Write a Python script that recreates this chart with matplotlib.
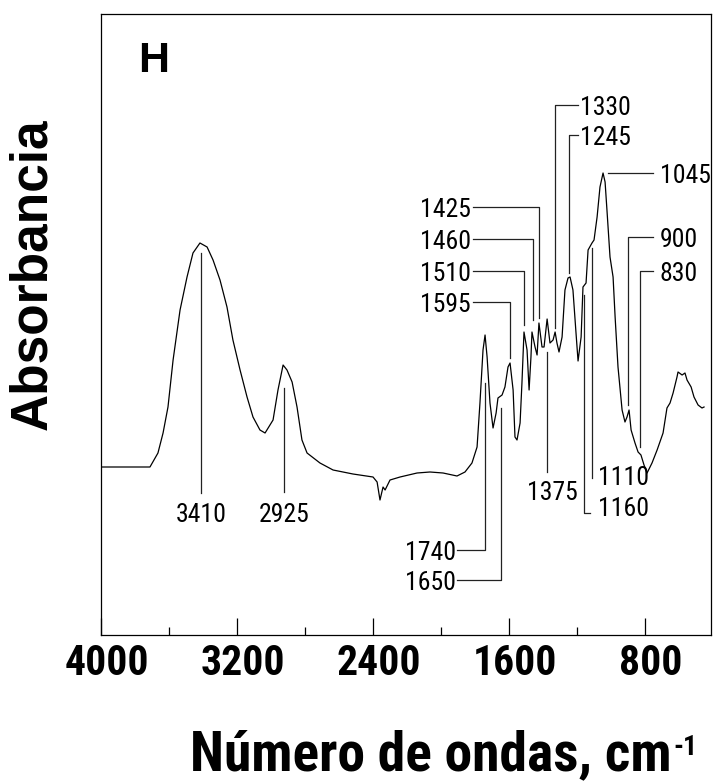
import matplotlib
matplotlib.use("Agg")
import matplotlib.pyplot as plt
from matplotlib import font_manager as fm
from matplotlib.transforms import ScaledTranslation
from matplotlib.ticker import FixedLocator, NullLocator

wavenumber = [
    4000, 3829, 3712, 3665, 3635, 3606, 3576, 3535, 3494, 3459, 3418, 3376,
    3341, 3300, 3259, 3224, 3182, 3141, 3106, 3065, 3035, 2988, 2959, 2929,
    2906, 2876, 2847, 2818, 2788, 2712, 2635, 2518, 2400, 2376, 2359, 2341,
    2329, 2300, 2241, 2141, 2065, 1988, 1906, 1859, 1818, 1788, 1771, 1753,
    1741, 1729, 1712, 1694, 1676, 1665, 1641, 1624, 1606, 1594, 1576, 1565,
    1553, 1535, 1524, 1512, 1494, 1482, 1471, 1465, 1447, 1435, 1424, 1406,
    1394, 1376, 1359, 1341, 1329, 1318, 1306, 1288, 1271, 1253, 1241, 1224,
    1206, 1194, 1176, 1165, 1147, 1135, 1112, 1100, 1082, 1065, 1047, 1035,
    1024, 1006, 988, 976, 959, 935, 918, 906, 894, 882, 859, 841,
    824, 806, 788, 759, 729, 694, 671, 653, 635, 612, 606, 582,
    565, 553, 529, 512, 488, 465, 453,
]
absorbance = [
    0.84, 0.84, 0.84, 0.91, 1.01, 1.14, 1.375, 1.625, 1.79, 1.91, 1.96, 1.94,
    1.875, 1.775, 1.64, 1.475, 1.325, 1.19, 1.09, 1.025, 1.01, 1.075, 1.225, 1.35,
    1.325, 1.265, 1.14, 0.975, 0.91, 0.86, 0.825, 0.805, 0.79, 0.765, 0.675, 0.74,
    0.725, 0.775, 0.79, 0.81, 0.815, 0.81, 0.795, 0.815, 0.86, 0.94, 1.16, 1.425,
    1.50, 1.39, 1.16, 1.035, 1.11, 1.185, 1.20, 1.24, 1.34, 1.36, 1.225, 0.99,
    0.975, 1.06, 1.26, 1.515, 1.425, 1.225, 1.39, 1.515, 1.44, 1.40, 1.56, 1.44,
    1.44, 1.58, 1.46, 1.475, 1.515, 1.46, 1.415, 1.49, 1.725, 1.785, 1.79, 1.725,
    1.51, 1.37, 1.49, 1.74, 1.76, 1.925, 1.96, 1.975, 2.09, 2.24, 2.31, 2.265,
    2.125, 1.89, 1.79, 1.59, 1.34, 1.125, 1.065, 1.09, 1.125, 1.025, 0.96, 0.915,
    0.90, 0.85, 0.81, 0.86, 0.925, 1.01, 1.135, 1.16, 1.21, 1.29, 1.315, 1.30,
    1.31, 1.275, 1.24, 1.19, 1.15, 1.135, 1.14,
]

# Labelled bands (cm-1)
band_labels = ["3410", "2925", "1740", "1650", "1595", "1510", "1460", "1425",
               "1375", "1330", "1245", "1160", "1110", "1045", "900", "830"]

# leader-line geometry for each label: path of (x, y) points, text (x, y, ha)
leaders = {
    "3410": ([(3410, 1.91), (3410, 0.71)], (3410, 0.565, "center")),
    "2925": ([(2925, 1.235), (2925, 0.715)], (2925, 0.565, "center")),
    "1375": ([(1375, 1.415), (1375, 0.815)], (1347, 0.675, "center")),
    "1110": ([(1110, 1.935), (1110, 0.785)], (1077, 0.75, "left")),
    "1740": ([(1740, 1.26), (1740, 0.425), (1906, 0.425)], (1912, 0.375, "right")),
    "1650": ([(1650, 1.135), (1650, 0.275), (1906, 0.275)], (1912, 0.225, "right")),
    "1160": ([(1160, 1.70), (1160, 0.61), (1124, 0.61)], (1077, 0.595, "left")),
    "1595": ([(1595, 1.385), (1595, 1.665), (1812, 1.665)], (1824, 1.615, "right")),
    "1510": ([(1510, 1.55), (1510, 1.82), (1812, 1.82)], (1824, 1.77, "right")),
    "1460": ([(1460, 1.575), (1460, 1.98), (1812, 1.98)], (1824, 1.93, "right")),
    "1425": ([(1425, 1.585), (1425, 2.14), (1812, 2.14)], (1824, 2.09, "right")),
    "1330": ([(1330, 1.535), (1330, 2.65), (1194, 2.65)], (1183, 2.60, "left")),
    "1245": ([(1245, 1.81), (1245, 2.50), (1194, 2.50)], (1183, 2.45, "left")),
    "1045": ([(1018, 2.31), (753, 2.31)], (712, 2.26, "left")),
    "900": ([(900, 1.15), (900, 1.99), (753, 1.99)], (712, 1.94, "left")),
    "830": ([(830, 0.94), (830, 1.82), (753, 1.82)], (712, 1.77, "left")),
}

major_ticks = [4000, 3200, 2400, 1600, 800]
minor_ticks = [3600, 2800, 2000, 1200]


def _weight(f):
    w = f.weight
    if isinstance(w, str):
        w = fm.weight_dict.get(w, 400)
    return w


def narrow_font(bold):
    """Find an installed condensed sans font (Arial Narrow look-alike)."""
    prefs = ["Liberation Sans Narrow", "Arial Narrow", "Roboto Condensed",
             "Open Sans Condensed", "Noto Sans", "Open Sans", "Roboto", "DejaVu Sans"]
    cands = []
    for f in fm.fontManager.ttflist:
        fname = f.fname.lower()
        is_narrow = (f.stretch in ("condensed", "semi-condensed", "extra-condensed")
                     or "narrow" in fname or "condensed" in fname)
        if not is_narrow or f.style != "normal" or "mono" in fname:
            continue
        cands.append(f)
    for name in prefs:
        sel = [f for f in cands if f.name == name]
        if not sel:
            continue
        target = 700 if bold else 400
        sel.sort(key=lambda f: abs(_weight(f) - target))
        return fm.FontProperties(fname=sel[0].fname)
    return fm.FontProperties(family="DejaVu Sans",
                             weight="bold" if bold else "normal")


NARROW = narrow_font(False)
NARROW_BOLD = narrow_font(True)
BOLD = ["Liberation Sans", "DejaVu Sans"]


def fp(base, size):
    p = base.copy()
    p.set_size(size)
    return p


fig = plt.figure(figsize=(7.13, 7.82), dpi=100)
ax = fig.add_axes([101 / 713, 147 / 782, 610 / 713, 621 / 782])

ax.plot(wavenumber, absorbance, color="black", lw=0.9)

for lab in band_labels:
    path, (tx, ty, ha) = leaders[lab]
    xs = [p[0] for p in path]
    ys = [p[1] for p in path]
    ax.plot(xs, ys, color="#222222", lw=0.9)
    ax.text(tx, ty, lab, ha=ha, va="baseline", fontproperties=fp(NARROW, 18.5))

ax.set_xlim(4000, 412)
ax.set_ylim(0, 3.105)

ax.xaxis.set_major_locator(FixedLocator(major_ticks))
ax.xaxis.set_minor_locator(FixedLocator(minor_ticks))
ax.yaxis.set_major_locator(NullLocator())
ax.tick_params(axis="x", which="major", direction="in", length=12, width=0.9, pad=6)
ax.tick_params(axis="x", which="minor", direction="in", length=6, width=0.9)
shift = ScaledTranslation(6 / 100, 0, fig.dpi_scale_trans)
for t in ax.get_xticklabels():
    t.set_fontproperties(fp(NARROW_BOLD, 30))
    t.set_transform(t.get_transform() + shift)
for s in ax.spines.values():
    s.set_linewidth(0.9)

fig.text(138 / 713, (782 - 72) / 782, "H", ha="left", va="baseline",
         fontsize=31, fontweight="bold", family=BOLD)

fig.text(33 / 713, (782 - 274) / 782, "Absorbancia", rotation=90,
         ha="center", va="center", fontsize=37, fontweight="bold", family=BOLD)

fig.text(672 / 713, (782 - 770) / 782, "Número de ondas, cm", ha="right",
         va="baseline", fontproperties=fp(NARROW_BOLD, 40))
fig.text(673 / 713, (782 - 755) / 782, "-1", ha="left", va="baseline",
         fontproperties=fp(NARROW_BOLD, 20))

fig.savefig("out.png", dpi=100)
